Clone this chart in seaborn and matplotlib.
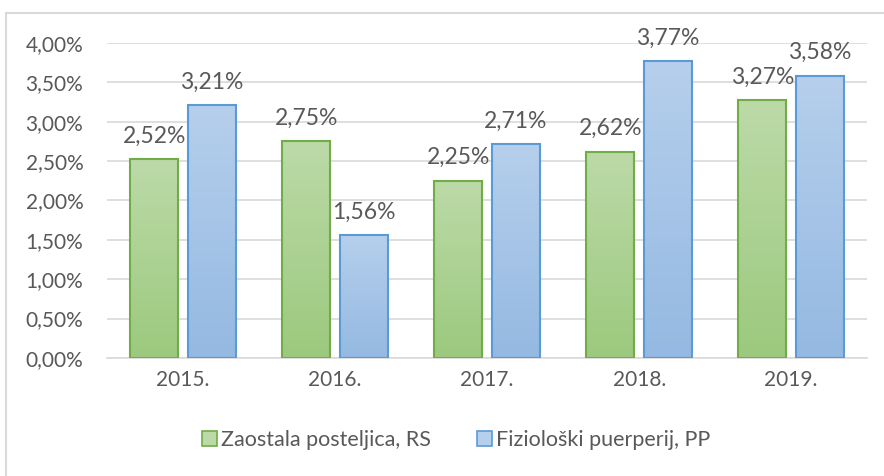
import numpy as np
import pandas as pd
import matplotlib.pyplot as plt
import seaborn as sns
from matplotlib.patches import Rectangle
from matplotlib.colors import LinearSegmentedColormap

# Data
years = ['2015.', '2016.', '2017.', '2018.', '2019.']
series_names = ['Zaostala posteljica, RS', 'Fiziološki puerperij, PP']
rs_values = [2.52, 2.75, 2.25, 2.62, 3.27]
pp_values = [3.21, 1.56, 2.71, 3.77, 3.58]
y_ticks = [0.0, 0.5, 1.0, 1.5, 2.0, 2.5, 3.0, 3.5, 4.0]

df = pd.DataFrame({
    'year': years * 2,
    'series': [series_names[0]] * 5 + [series_names[1]] * 5,
    'value': rs_values + pp_values,
})

sns.set_theme(style='white')
plt.rcParams['font.family'] = ['Lato', 'DejaVu Sans']
text_col = '#595959'
grid_col = '#D9D9D9'

edge_colors = ['#70AD47', '#5B9BD5']
grad_top = ['#BCDAA8', '#B6CFEC']
grad_bot = ['#9CC97E', '#94B9E2']

fig = plt.figure(figsize=(8.84, 4.76), dpi=100)
ax = fig.add_axes([0.121, 0.248, 0.860, 0.662])

sns.barplot(data=df, x='year', y='value', hue='series', hue_order=series_names,
            palette=grad_bot, width=0.76, gap=0.17, edgecolor='none',
            legend=False, ax=ax)

ax.set_xlim(-0.5, 4.5)
ax.set_ylim(0, 4.0)

# gradient fill + edges for each bar
for i, container in enumerate(ax.containers):
    cmap = LinearSegmentedColormap.from_list('g%d' % i, [grad_bot[i], grad_top[i]])
    grad = np.linspace(0, 1, 256).reshape(-1, 1)
    for bar in container:
        x0, w, h = bar.get_x(), bar.get_width(), bar.get_height()
        img = ax.imshow(grad, cmap=cmap, origin='lower', aspect='auto',
                        extent=[x0, x0 + w, 0, h], zorder=2)
        img.set_clip_path(bar)
        ax.add_patch(Rectangle((x0, 0), w, h, fill=False,
                               edgecolor=edge_colors[i], linewidth=1.5, zorder=3))
        ax.text(x0 + w / 2, h + 0.16, f'{h:.2f}%'.replace('.', ','),
                ha='center', va='bottom', fontsize=16.5, color=text_col, zorder=4)
    for bar in container:
        bar.set_alpha(0)

ax.set_aspect('auto')
ax.set_xlim(-0.5, 4.5)
ax.set_ylim(0, 4.0)

ax.set_yticks(y_ticks)
ax.set_yticklabels([f'{t:.2f}%'.replace('.', ',') for t in y_ticks])
ax.yaxis.grid(True, color=grid_col, linewidth=1.2)
ax.set_axisbelow(True)
for s in ['top', 'right', 'left']:
    ax.spines[s].set_visible(False)
ax.spines['bottom'].set_color(grid_col)
ax.spines['bottom'].set_linewidth(1.2)
ax.tick_params(axis='both', length=0, labelsize=15, labelcolor=text_col)
ax.tick_params(axis='y', pad=17)
ax.tick_params(axis='x', pad=9)
ax.set_xlabel('')
ax.set_ylabel('')

# legend
handles = [Rectangle((0, 0), 1, 1, facecolor=grad_top[i], edgecolor=edge_colors[i],
                     linewidth=1.2) for i in range(2)]
fig.legend(handles, series_names, loc='center', bbox_to_anchor=(0.516, 0.075),
           ncol=2, frameon=False, fontsize=15.5, labelcolor=text_col,
           handlelength=0.7, handleheight=0.7, handletextpad=0.2, columnspacing=2.1)

# chart area border
fig.add_artist(Rectangle((0.007, -0.1), 1.1, 1.073, transform=fig.transFigure,
                         fill=False, edgecolor=grid_col, linewidth=1.5))

fig.savefig('out.png', dpi=100)
